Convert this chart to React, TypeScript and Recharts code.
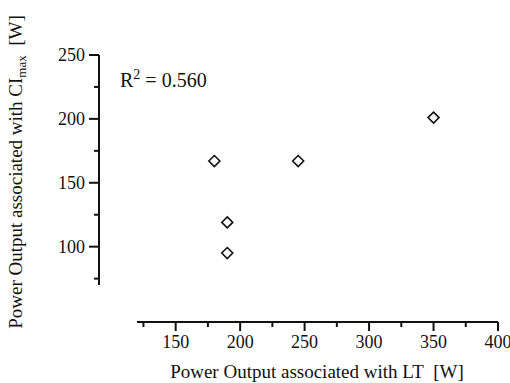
import { ScatterChart, Scatter, XAxis, YAxis } from "recharts";

// values
const ltPower = [180, 245, 190, 190, 350];
const ciMaxPower = [167, 167, 119, 95, 201];

const xTicks = [125, 150, 175, 200, 225, 250, 275, 300, 325, 350, 375, 400];
const yTicks = [75, 100, 125, 150, 175, 200, 225, 250];
const rSquared = "0.560";

const ink = "#111";
const font = "'Liberation Serif', 'Times New Roman', serif";

const points = ltPower.map((lt, i) => ({ lt, ci: ciMaxPower[i] }));

// the axes sit detached from the plot area, as in the original figure
const X_SHIFT = 37;
const Y_SHIFT = 38;

const X_TICK = 9;
const X_MARGIN = 4;
const Y_TICK = 10;
const Y_MARGIN = 4;

function XTick(props: any) {
  const { x, y, payload } = props;
  const major = payload.value % 50 === 0;
  const axisY = y - X_TICK - X_MARGIN;
  return (
    <g transform={`translate(0,${X_SHIFT})`}>
      <line x1={x} x2={x} y1={axisY} y2={axisY + (major ? X_TICK : 5)} stroke={ink} strokeWidth={2} />
      {major && (
        <text x={x} y={y} dy="0.71em" textAnchor="middle" fontSize={18} fontFamily={font} fill={ink}>
          {payload.value}
        </text>
      )}
    </g>
  );
}

function YTick(props: any) {
  const { x, y, payload } = props;
  const major = payload.value % 50 === 0;
  const axisX = x + Y_TICK + Y_MARGIN;
  return (
    <g transform={`translate(${-Y_SHIFT},0)`}>
      <line x1={axisX - (major ? Y_TICK : 5)} x2={axisX} y1={y} y2={y} stroke={ink} strokeWidth={2} />
      {major && (
        <text x={x} y={y} dy="0.355em" textAnchor="end" fontSize={18} fontFamily={font} fill={ink}>
          {payload.value}
        </text>
      )}
    </g>
  );
}

function Diamond(props: any) {
  const { cx, cy } = props;
  const r = 5.5;
  return (
    <path
      d={`M${cx},${cy - r}L${cx + r},${cy}L${cx},${cy + r}L${cx - r},${cy}Z`}
      fill="#fff"
      stroke={ink}
      strokeWidth={1.6}
    />
  );
}

export default function App() {
  return (
    <div style={{ position: "absolute", left: 0, top: 0, background: "#fff" }}>
      <style>{`
        .recharts-xAxis > .recharts-cartesian-axis-line { transform: translateY(${X_SHIFT}px); }
        .recharts-yAxis > .recharts-cartesian-axis-line { transform: translateX(${-Y_SHIFT}px); }
      `}</style>
      <ScatterChart width={510} height={383} margin={{ top: 55, right: 12, left: 77, bottom: 58 }}>
        <XAxis
          type="number"
          dataKey="lt"
          domain={[120, 400]}
          ticks={xTicks}
          interval={0}
          height={40}
          tickLine={false}
          tickSize={X_TICK}
          tickMargin={X_MARGIN}
          tick={<XTick />}
          axisLine={{ stroke: ink, strokeWidth: 2 }}
          allowDataOverflow
        />
        <YAxis
          type="number"
          dataKey="ci"
          domain={[70, 250]}
          ticks={yTicks}
          interval={0}
          width={60}
          tickLine={false}
          tickSize={Y_TICK}
          tickMargin={Y_MARGIN}
          tick={<YTick />}
          axisLine={{ stroke: ink, strokeWidth: 2 }}
          allowDataOverflow
        />
        <Scatter data={points} shape={<Diamond />} isAnimationActive={false} />
        <text x={120} y={87} fontSize={20} fontFamily={font} fill={ink}>
          R<tspan dy={-8} fontSize={14}>2</tspan>
          <tspan dy={8}> = {rSquared}</tspan>
        </text>
        <text x={317} y={378} textAnchor="middle" fontSize={19} fontFamily={font} fill={ink}>
          Power Output associated with LT{"\u00a0\u00a0"}[W]
        </text>
        <text
          transform="translate(22,172) rotate(-90)"
          x={0}
          y={0}
          textAnchor="middle"
          fontSize={19}
          fontFamily={font}
          fill={ink}
        >
          Power Output associated with CI
          <tspan dy={4} fontSize={13}>max</tspan>
          <tspan dy={-4}>{"\u00a0\u00a0"}[W]</tspan>
        </text>
      </ScatterChart>
    </div>
  );
}
